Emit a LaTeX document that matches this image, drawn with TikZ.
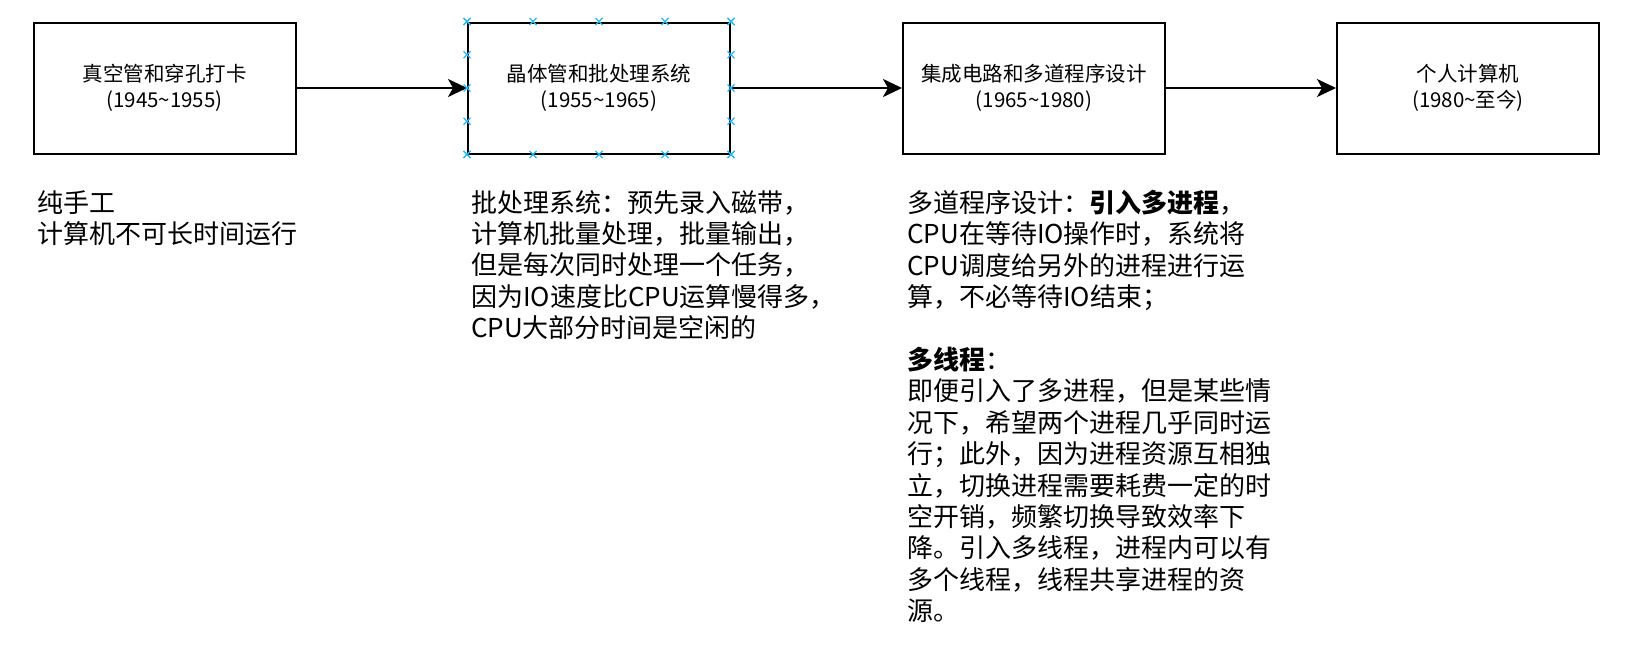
\documentclass[tikz,border=0pt]{standalone}
\usepackage{fontspec}
\setmainfont{Noto Sans CJK SC}
\usetikzlibrary{arrows.meta,calc}
\definecolor{handle}{RGB}{41,182,242}
\begin{document}
\begin{tikzpicture}[x=1pt,y=-1pt,
  stage/.style={draw, line width=2pt, minimum width=262pt, minimum height=131pt,
    inner sep=0pt, align=center, font=\fontsize{20.5}{26}\selectfont},
  note/.style={anchor=north west, inner sep=0pt, align=left,
    font=\fontsize{26}{31.4}\selectfont},
  flow/.style={-{Stealth[length=19pt,width=18pt,inset=5pt]}, line width=2pt},
  handlemark/.style={draw=handle, line width=1.2pt}]
\useasboundingbox (0,0) rectangle (1642,651);

\node[stage] (b1) at (164.5,88) {真空管和穿孔打卡\\(1945\textasciitilde{}1955)};
\node[stage] (b2) at (599,88) {晶体管和批处理系统\\(1955\textasciitilde{}1965)};
\node[stage] (b3) at (1034,88) {集成电路和多道程序设计\\(1965\textasciitilde{}1980)};
\node[stage] (b4) at (1468,88) {个人计算机\\(1980\textasciitilde{}至今)};

\draw[flow] (b1.east) -- (b2.west);
\draw[flow] (b2.east) -- (b3.west);
\draw[flow] (b3.east) -- (b4.west);

% connection handles on the selected box
\foreach \t in {0,0.25,0.5,0.75,1}{
  \foreach \p in {($(b2.north west)!\t!(b2.north east)$),($(b2.south west)!\t!(b2.south east)$),
                  ($(b2.north west)!\t!(b2.south west)$),($(b2.north east)!\t!(b2.south east)$)}{
    \path \p coordinate (h);
    \draw[handlemark] ([shift={(-3.5pt,-3.5pt)}]h) -- ([shift={(3.5pt,3.5pt)}]h)
                      ([shift={(-3.5pt,3.5pt)}]h) -- ([shift={(3.5pt,-3.5pt)}]h);
  }
}

\node[note] (n1) at (37,190) {纯手工\\计算机不可长时间运行};
\node[note] (n2) at (471,190) {批处理系统：预先录入磁带，\\计算机批量处理，批量输出，\\但是每次同时处理一个任务，\\因为IO速度比CPU运算慢得多，\\CPU大部分时间是空闲的};
\node[note] (n3) at (907,190) {多道程序设计：\textbf{引入多进程}，\\CPU在等待IO操作时，系统将\\CPU调度给另外的进程进行运\\算，不必等待IO结束；\\[31.4pt]
\textbf{多线程}：\\即便引入了多进程，但是某些情\\况下，希望两个进程几乎同时运\\行；此外，因为进程资源互相独\\立，切换进程需要耗费一定的时\\空开销，频繁切换导致效率下\\降。引入多线程，进程内可以有\\多个线程，线程共享进程的资\\源。};
\end{tikzpicture}
\end{document}
